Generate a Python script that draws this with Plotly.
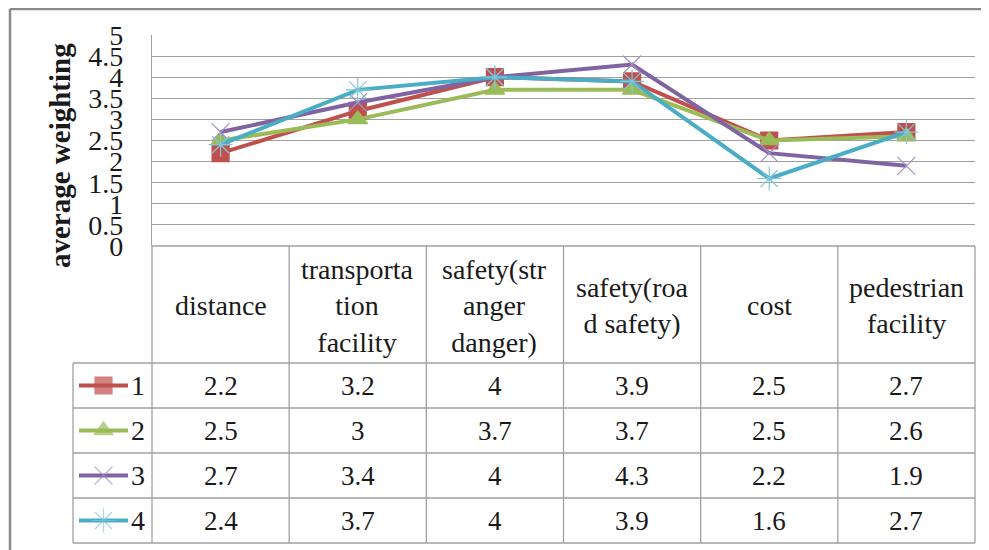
import plotly.graph_objects as go

# ---- data ----
categories = ["distance", "transporta<br>tion<br>facility", "safety(str<br>anger<br>danger)",
              "safety(roa<br>d safety)", "cost", "pedestrian<br>facility"]
series_names = ["1", "2", "3", "4"]
s1 = [2.2, 3.2, 4, 3.9, 2.5, 2.7]
s2 = [2.5, 3, 3.7, 3.7, 2.5, 2.6]
s3 = [2.7, 3.4, 4, 4.3, 2.2, 1.9]
s4 = [2.4, 3.7, 4, 3.9, 1.6, 2.7]
y_ticks = [0, 0.5, 1, 1.5, 2, 2.5, 3, 3.5, 4, 4.5, 5]
y_title = "average weighting"

series = [s1, s2, s3, s4]
colors = ["#C0504D", "#9BBB59", "#8064A2", "#4BACC6"]
mcolors = ["#C0504D", "#9BBB59", "#A391C4", "#7FC6DA"]
symbols = ["square", "triangle-up", "x-thin-open", "asterisk-open"]
msizes = [17, 17, 18, 20]

W, H = 989, 550
FONT = "Liberation Serif"
OFF = 8  # page body margin offset
def px(x): return (x - OFF) / W
def py(y): return 1 - (y - OFF) / H

# layout geometry (pixels, in target picture)
PL, PR, PT, PB = 152, 975, 35, 246
LEG_L = 73
HDR_B = 363
ROW_H = 45
n = len(categories)
col_w = (PR - PL) / n

fig = go.Figure()
xs = list(range(n))
for name, ys, c, mc, sym, ms in zip(series_names, series, colors, mcolors, symbols, msizes):
    fig.add_trace(go.Scatter(
        x=xs, y=ys, mode="lines+markers", name=name,
        line=dict(color=c, width=4),
        marker=dict(symbol=sym, size=ms, color=mc, line=dict(color=mc, width=1.2)),
        showlegend=False, xaxis="x", yaxis="y"))

# legend keys inside the table (overlay axis)
for i, (c, mc, sym, ms) in enumerate(zip(colors, mcolors, symbols, msizes)):
    fig.add_trace(go.Scatter(
        x=[0, 1, 2], y=[i + 0.5] * 3, mode="lines+markers",
        line=dict(color=c, width=4),
        marker=dict(symbol=sym, size=[0, ms, 0], color=mc, line=dict(color=mc, width=1.2)),
        showlegend=False, xaxis="x2", yaxis="y2", hoverinfo="skip"))

grid = "#A0A0A0"
fig.update_layout(
    width=W, height=H, margin=dict(l=0, r=0, t=0, b=0, pad=0, autoexpand=False),
    paper_bgcolor="white", plot_bgcolor="white", showlegend=False,
    font=dict(family=FONT, color="#1a1a1a"),
    xaxis=dict(domain=[px(PL), px(PR)], range=[-0.5, n - 0.5], showgrid=False, automargin=False,
               showticklabels=False, zeroline=False, showline=False, fixedrange=True),
    yaxis=dict(domain=[py(PB), py(PT)], range=[0, 5], tickvals=y_ticks, automargin=False,
               ticktext=[f"{v:g}" for v in y_ticks],
               showgrid=True, gridcolor=grid, gridwidth=1.3, zeroline=False,
               showline=True, linecolor=grid, linewidth=1.3,
               ticks="outside", ticklen=22, tickcolor="rgba(0,0,0,0)",
               tickfont=dict(family=FONT, size=28, color="#1a1a1a")),
    xaxis2=dict(domain=[px(79), px(128)], range=[0, 2], visible=False, fixedrange=True, automargin=False),
    yaxis2=dict(domain=[py(HDR_B + 4 * ROW_H), py(HDR_B)], range=[4, 0], visible=False, automargin=False),
)

shapes = []
line = dict(color=grid, width=1.3)
shapes.append(dict(type="line", xref="paper", yref="paper", x0=px(PL), x1=px(PR), y0=py(PB), y1=py(PB), line=line))
for r in range(5):
    yy = HDR_B + r * ROW_H
    shapes.append(dict(type="line", xref="paper", yref="paper", x0=px(LEG_L), x1=px(PR), y0=py(yy), y1=py(yy), line=line))
for k in range(n + 1):
    xx = PL + k * col_w
    shapes.append(dict(type="line", xref="paper", yref="paper", x0=px(xx), x1=px(xx), y0=py(PB), y1=py(HDR_B + 4 * ROW_H), line=line))
shapes.append(dict(type="line", xref="paper", yref="paper", x0=px(LEG_L), x1=px(LEG_L), y0=py(HDR_B), y1=py(HDR_B + 4 * ROW_H), line=line))
frame = dict(color="#8A8A8A", width=2.5)
shapes.append(dict(type="line", xref="paper", yref="paper", x0=px(10), x1=1, y0=py(9), y1=py(9), line=frame))
shapes.append(dict(type="line", xref="paper", yref="paper", x0=px(10), x1=px(10), y0=0, y1=py(9), line=frame))

annotations = []
for k, cat in enumerate(categories):
    annotations.append(dict(xref="paper", yref="paper", x=px(PL + (k + 0.5) * col_w), y=py((PB + HDR_B) / 2 + 1),
                            text=cat, showarrow=False, xanchor="center", yanchor="middle",
                            font=dict(family=FONT, size=28, color="#1a1a1a"), align="center"))
for r, ys in enumerate(series):
    for k, v in enumerate(ys):
        annotations.append(dict(xref="paper", yref="paper", x=px(PL + (k + 0.5) * col_w),
                                y=py(HDR_B + (r + 0.5) * ROW_H), text=f"{v:g}", showarrow=False,
                                xanchor="center", yanchor="middle",
                                font=dict(family=FONT, size=27, color="#1a1a1a")))
    annotations.append(dict(xref="paper", yref="paper", x=px(129), y=py(HDR_B + (r + 0.5) * ROW_H),
                            text=series_names[r], showarrow=False, xanchor="left", yanchor="middle",
                            font=dict(family=FONT, size=28, color="#1a1a1a")))
annotations.append(dict(xref="paper", yref="paper", x=px(60), y=py(156), text=f"<b>{y_title}</b>",
                        textangle=-90, showarrow=False, xanchor="center", yanchor="middle",
                        font=dict(family=FONT, size=29, color="#1a1a1a")))

fig.update_layout(shapes=shapes, annotations=annotations)
fig.write_html("out.html")
